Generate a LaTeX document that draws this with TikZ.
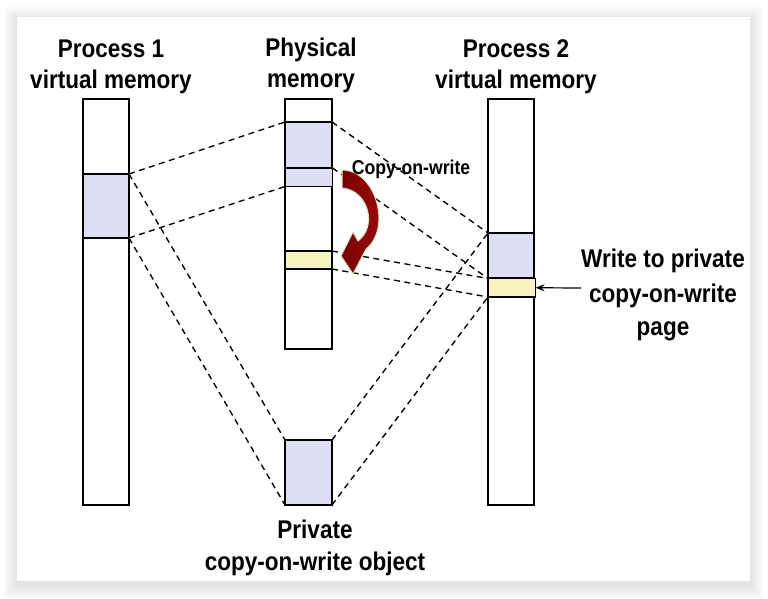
\documentclass[tikz,border=0pt]{standalone}
\usepackage{fontspec}
\newfontfamily\labfont{Liberation Sans}[FakeStretch=0.88]
\usetikzlibrary{arrows.meta}
\definecolor{lav}{RGB}{221,221,244}
\definecolor{yel}{RGB}{245,244,192}
\definecolor{cowredA}{RGB}{120,0,0}
\definecolor{cowredB}{RGB}{165,12,12}
\definecolor{cowedge}{RGB}{205,232,195}
\begin{document}
\begin{tikzpicture}[x=1pt,y=-1pt,
  box/.style={draw=black, line width=1.4pt, inner sep=0pt, outer sep=0pt, anchor=north west},
  dline/.style={draw=black, line width=1.35pt, dash pattern=on 6pt off 4.5pt},
  big/.style={font=\labfont\bfseries\fontsize{25.6}{31}\selectfont, anchor=base, inner sep=0pt},
  small/.style={font=\labfont\bfseries\fontsize{20}{24}\selectfont, anchor=base, inner sep=0pt}]
\useasboundingbox (0,0) rectangle (768,599);
\fill[white] (0,0) rectangle (768,599);
\foreach \i in {1,...,14} {\fill[black,opacity=0.006] (17-\i,20-\i) rectangle (750+\i,585+\i);}
\fill[white] (17,17) rectangle (750,581);

% bars
\node[box, fill=white, minimum width=46pt, minimum height=406pt] (p1) at (83,99) {};
\node[box, fill=white, minimum width=47pt, minimum height=250pt] (ph) at (285,99) {};
\node[box, fill=white, minimum width=46pt, minimum height=406pt] (p2) at (488,99) {};

% regions
\node[box, fill=lav, minimum width=46pt, minimum height=64pt] (p1r) at (83,174) {};
\node[box, fill=lav, minimum width=47pt, minimum height=46pt] (ph1) at (285,122) {};
\node[box, fill=lav, minimum width=47.5pt, minimum height=18.5pt] (ph2) at (285,168) {};
\node[box, fill=yel, minimum width=47pt, minimum height=18pt] (phy) at (285,251) {};
\node[box, fill=lav, minimum width=47pt, minimum height=65pt] (pv) at (285,440) {};
\node[box, fill=lav, minimum width=46pt, minimum height=45pt] (p2r) at (488,233) {};
\node[box, fill=yel, minimum width=47.5pt, minimum height=18.5pt] (p2y) at (488,278.5) {};

% dashed mappings
\draw[dline] (p1r.north east) -- (ph1.north west);
\draw[dline] (p1r.south east) -- (ph2.south west);
\draw[dline] (p1r.north east) -- (pv.north west);
\draw[dline] (p1r.south east) -- (pv.south west);
\draw[dline] (ph1.north east) -- (p2r.north west);
\draw[dline] (ph2.north east) -- (p2y.north west);
\draw[dline] (phy.north east) -- (p2y.north west);
\draw[dline] (phy.south east) -- (p2y.south west);
\draw[dline] (pv.north east) -- (p2r.north west);
\draw[dline] (pv.south east) -- (p2y.south west);

% copy-on-write curved arrow
\path[draw=cowedge, line width=1pt, left color=cowredA, right color=cowredB]
  (342,170) .. controls (376,170) and (392,228) .. (366,249)
  -- (353,274) -- (341,256) -- (353,232) -- (358,241)
  .. controls (378,226) and (368,190) .. (342,188) -- cycle;

% labels
\node[big] (t1a) at (111,58) {Process 1};
\node[big] (t1b) at (111,89) {virtual memory};
\node[big] (t2a) at (311,57) {Physical};
\node[big] (t2b) at (311,88) {memory};
\node[big] (t3a) at (516,58) {Process 2};
\node[big] (t3b) at (516,89) {virtual memory};
\node[big] (t4a) at (663,267) {Write to private};
\node[big] (t4b) at (663,302) {copy-on-write};
\node[big] (t4c) at (663,335) {page};
\node[big] (t5a) at (315,538) {Private};
\node[big] (t5b) at (315,570) {copy-on-write object};
\node[small] (cw) at (411,175) {Copy-on-write};

\coordinate (wstart) at (581,288);
\draw[line width=1.2pt, -{Stealth[length=9pt,width=7pt]}] (wstart) -- (p2y.east);
\end{tikzpicture}
\end{document}
